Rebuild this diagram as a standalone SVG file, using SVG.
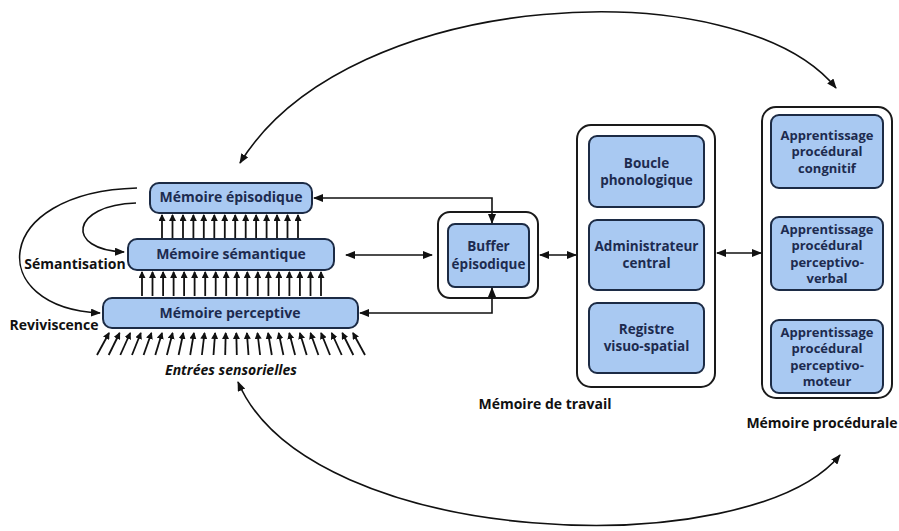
<svg xmlns="http://www.w3.org/2000/svg" width="899" height="531" viewBox="0 0 899 531">
<style>
.box{fill:#a9c9f2;stroke:#1c2b45;stroke-width:2}
.outer{fill:#fff;stroke:#1a1a1a;stroke-width:2}
.bt{font-family:"Open Sans",Lato,"Liberation Sans",sans-serif;font-weight:bold;font-size:14px;fill:#1d2b4f;text-anchor:middle}
.wm{font-size:13.5px}
.pr{font-size:13px}
.lbl{font-family:"Open Sans",Lato,"Liberation Sans",sans-serif;font-weight:bold;font-size:14px;fill:#111;text-anchor:middle}
.ln{fill:none;stroke:#111;stroke-width:1.6}
.sa{fill:none;stroke:#111;stroke-width:1.8;marker-end:url(#ah)}
</style>
<defs>
<marker id="a" markerUnits="userSpaceOnUse" markerWidth="10" markerHeight="8" refX="9" refY="4" orient="auto-start-reverse"><path d="M0,0 L10,4 L0,8 z" fill="#111"/></marker>
<marker id="ah" markerUnits="userSpaceOnUse" markerWidth="7" markerHeight="7" refX="6" refY="3.5" orient="auto"><path d="M0,0 L7,3.5 L0,7 z" fill="#111"/></marker>
</defs>

<g id="episodique">
<rect class="box" x="150" y="183" width="162" height="30" rx="9"/>
<text class="bt" x="231" y="202">Mémoire épisodique</text>
</g>
<g id="semantique">
<rect class="box" x="128" y="239" width="206" height="31" rx="9"/>
<text class="bt" x="231" y="259">Mémoire sémantique</text>
</g>
<g id="perceptive">
<rect class="box" x="103" y="298" width="255" height="30" rx="9"/>
<text class="bt" x="230" y="318">Mémoire perceptive</text>
</g>

<g id="buffer">
<rect class="outer" x="438" y="212" width="100" height="86" rx="12"/>
<rect class="box" x="448" y="224" width="81" height="63" rx="7"/>
<text class="bt wm" x="488.5" y="251">Buffer</text>
<text class="bt wm" x="488.5" y="269">épisodique</text>
</g>

<g id="memoire-travail">
<rect class="outer" x="577" y="125" width="138" height="262" rx="14"/>
<g id="boucle">
<rect class="box" x="589" y="136" width="115" height="71" rx="8"/>
<text class="bt wm" x="646.5" y="168">Boucle</text>
<text class="bt wm" x="646.5" y="185">phonologique</text>
</g>
<g id="administrateur">
<rect class="box" x="589" y="220" width="115" height="70" rx="8"/>
<text class="bt wm" x="646.5" y="251">Administrateur</text>
<text class="bt wm" x="646.5" y="268">central</text>
</g>
<g id="registre">
<rect class="box" x="589" y="303" width="115" height="70" rx="8"/>
<text class="bt wm" x="646.5" y="334">Registre</text>
<text class="bt wm" x="646.5" y="351">visuo-spatial</text>
</g>
<text class="lbl" x="545" y="409">Mémoire de travail</text>
</g>

<g id="memoire-procedurale">
<rect class="outer" x="762" y="107" width="130" height="291" rx="14"/>
<g id="cognitif">
<rect class="box" x="771" y="115" width="112" height="73" rx="8"/>
<text class="bt pr" x="827" y="139.5">Apprentissage</text>
<text class="bt pr" x="827" y="156">procédural</text>
<text class="bt pr" x="827" y="172.5">congnitif</text>
</g>
<g id="perceptivo-verbal">
<rect class="box" x="771" y="217" width="112" height="73" rx="8"/>
<text class="bt pr" x="827" y="233.5">Apprentissage</text>
<text class="bt pr" x="827" y="250">procédural</text>
<text class="bt pr" x="827" y="266.5">perceptivo-</text>
<text class="bt pr" x="827" y="283">verbal</text>
</g>
<g id="perceptivo-moteur">
<rect class="box" x="771" y="320" width="112" height="73" rx="8"/>
<text class="bt pr" x="827" y="336.5">Apprentissage</text>
<text class="bt pr" x="827" y="353">procédural</text>
<text class="bt pr" x="827" y="369.5">perceptivo-</text>
<text class="bt pr" x="827" y="386">moteur</text>
</g>
<text class="lbl" x="822" y="428">Mémoire procédurale</text>
</g>

<g id="labels">
<text class="lbl" x="75" y="269">Sémantisation</text>
<text class="lbl" x="54" y="330">Reviviscence</text>
<text class="lbl" x="231" y="375" font-style="italic">Entrées sensorielles</text>
</g>

<g id="connectors">
<path class="ln" d="M240,163 C350,-15 740,-30 836,88" marker-start="url(#a)" marker-end="url(#a)"/>
<path class="ln" d="M238,382 C310,550 750,565 840,455" marker-start="url(#a)" marker-end="url(#a)"/>
<path class="ln" d="M136,203 C70,205 65,250 124,252" marker-end="url(#a)"/>
<path class="ln" d="M137,188 C-10,192 -15,308 100,313" marker-end="url(#a)"/>
<path class="ln" d="M314,198 H492 V223" marker-start="url(#a)" marker-end="url(#a)"/>
<path class="ln" d="M346,255 H432" marker-start="url(#a)" marker-end="url(#a)"/>
<path class="ln" d="M360,313 H492 V288" marker-start="url(#a)" marker-end="url(#a)"/>
<path class="ln" d="M540,255 H576" marker-start="url(#a)" marker-end="url(#a)"/>
<path class="ln" d="M717,253 H761" marker-start="url(#a)" marker-end="url(#a)"/>
<g id="up-arrows-1">
<line class="sa" x1="162" y1="238" x2="162" y2="215"/><line class="sa" x1="172.5" y1="238" x2="172.5" y2="215"/><line class="sa" x1="183" y1="238" x2="183" y2="215"/><line class="sa" x1="193.4" y1="238" x2="193.4" y2="215"/><line class="sa" x1="203.8" y1="238" x2="203.8" y2="215"/><line class="sa" x1="214.3" y1="238" x2="214.3" y2="215"/><line class="sa" x1="224.8" y1="238" x2="224.8" y2="215"/><line class="sa" x1="235.2" y1="238" x2="235.2" y2="215"/><line class="sa" x1="245.7" y1="238" x2="245.7" y2="215"/><line class="sa" x1="256.1" y1="238" x2="256.1" y2="215"/><line class="sa" x1="266.6" y1="238" x2="266.6" y2="215"/><line class="sa" x1="277" y1="238" x2="277" y2="215"/><line class="sa" x1="287.5" y1="238" x2="287.5" y2="215"/><line class="sa" x1="298" y1="238" x2="298" y2="215"/>
</g>
<g id="up-arrows-2">
<line class="sa" x1="142" y1="296" x2="142" y2="272"/><line class="sa" x1="152.5" y1="296" x2="152.5" y2="272"/><line class="sa" x1="163.1" y1="296" x2="163.1" y2="272"/><line class="sa" x1="173.6" y1="296" x2="173.6" y2="272"/><line class="sa" x1="184.1" y1="296" x2="184.1" y2="272"/><line class="sa" x1="194.6" y1="296" x2="194.6" y2="272"/><line class="sa" x1="205.2" y1="296" x2="205.2" y2="272"/><line class="sa" x1="215.7" y1="296" x2="215.7" y2="272"/><line class="sa" x1="226.2" y1="296" x2="226.2" y2="272"/><line class="sa" x1="236.8" y1="296" x2="236.8" y2="272"/><line class="sa" x1="247.3" y1="296" x2="247.3" y2="272"/><line class="sa" x1="257.8" y1="296" x2="257.8" y2="272"/><line class="sa" x1="268.4" y1="296" x2="268.4" y2="272"/><line class="sa" x1="278.9" y1="296" x2="278.9" y2="272"/><line class="sa" x1="289.4" y1="296" x2="289.4" y2="272"/><line class="sa" x1="299.9" y1="296" x2="299.9" y2="272"/><line class="sa" x1="310.5" y1="296" x2="310.5" y2="272"/><line class="sa" x1="321" y1="296" x2="321" y2="272"/>
</g>
<g id="sensory-arrows">
<line class="sa" x1="97" y1="355" x2="109" y2="333"/><line class="sa" x1="108.7" y1="355" x2="119.6" y2="333"/><line class="sa" x1="120.3" y1="355" x2="130.2" y2="333"/><line class="sa" x1="132" y1="355" x2="140.8" y2="333"/><line class="sa" x1="143.6" y1="355" x2="151.4" y2="333"/><line class="sa" x1="155.3" y1="355" x2="162" y2="333"/><line class="sa" x1="166.9" y1="355" x2="172.6" y2="333"/><line class="sa" x1="178.6" y1="355" x2="183.3" y2="333"/><line class="sa" x1="190.2" y1="355" x2="193.9" y2="333"/><line class="sa" x1="201.9" y1="355" x2="204.5" y2="333"/><line class="sa" x1="213.5" y1="355" x2="215.1" y2="333"/><line class="sa" x1="225.2" y1="355" x2="225.7" y2="333"/><line class="sa" x1="236.8" y1="355" x2="236.3" y2="333"/><line class="sa" x1="248.5" y1="355" x2="246.9" y2="333"/><line class="sa" x1="260.1" y1="355" x2="257.5" y2="333"/><line class="sa" x1="271.8" y1="355" x2="268.1" y2="333"/><line class="sa" x1="283.4" y1="355" x2="278.7" y2="333"/><line class="sa" x1="295.1" y1="355" x2="289.3" y2="333"/><line class="sa" x1="306.7" y1="355" x2="299.9" y2="333"/><line class="sa" x1="318.4" y1="355" x2="310.5" y2="333"/><line class="sa" x1="330" y1="355" x2="321.1" y2="333"/><line class="sa" x1="341.7" y1="355" x2="331.7" y2="333"/><line class="sa" x1="353.3" y1="355" x2="342.3" y2="333"/><line class="sa" x1="365" y1="355" x2="353" y2="333"/>
</g>
</g>
</svg>
